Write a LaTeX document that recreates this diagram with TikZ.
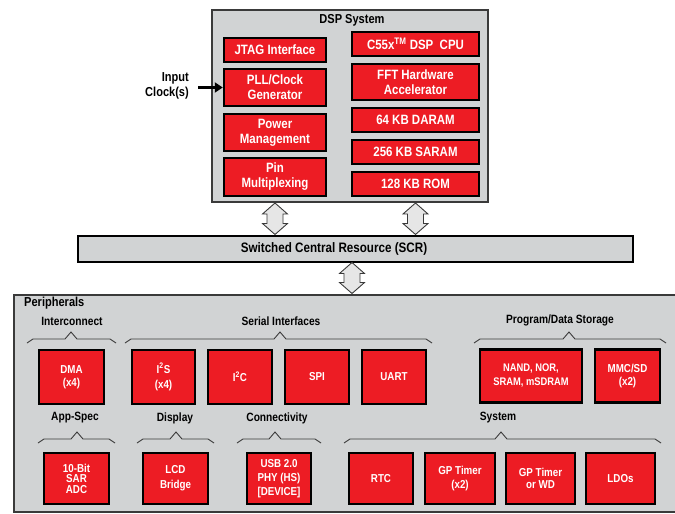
\documentclass[tikz,border=0pt]{standalone}
\usepackage{fontspec}
\setmainfont{Liberation Sans}[FakeStretch=0.85]
\usetikzlibrary{calc,arrows.meta}

\definecolor{chipred}{HTML}{ED1C24}
\definecolor{panelgray}{HTML}{D1D3D4}
\definecolor{framegray}{HTML}{3A3A3A}
\definecolor{busfill}{HTML}{E6E6E6}

% hollow vertical bus arrow between two points (top, bottom)
\newcommand\busarrow[2]{%
  \draw[bus] let \p1=#1, \p2=#2 in
    (\x1,\y1) -- (\x1+12.5pt,\y1-11pt) -- (\x1+8pt,\y1-11pt) -- (\x1+8pt,\y2+11pt)
    -- (\x1+12.5pt,\y2+11pt) -- (\x1,\y2) -- (\x1-12.5pt,\y2+11pt) -- (\x1-8pt,\y2+11pt)
    -- (\x1-8pt,\y1-11pt) -- (\x1-12.5pt,\y1-11pt) -- cycle;}

% group bracket: left x, right x, peak x, baseline y
\newcommand\groupbrace[4]{%
  \draw[bracestyle] (#1,#4+4) -- (#1+6,#4) -- (#3-6,#4) -- (#3,#4-7)
    -- (#3+6,#4) -- (#2-6,#4) -- (#2,#4+4);}

\tikzset{
  panel/.style={draw=framegray, fill=panelgray, line width=2pt},
  redbox/.style={draw=black, line width=2.5pt, fill=chipred, text=white,
    align=center, inner sep=0pt, font=\bfseries\fontsize{13.5}{15}\selectfont},
  perbox/.style={redbox, font=\bfseries\fontsize{11.5}{13.5}\selectfont},
  title/.style={inner sep=0pt, font=\bfseries\fontsize{13}{15}\selectfont},
  grouplabel/.style={inner sep=0pt, font=\bfseries\fontsize{12}{14}\selectfont},
  bracestyle/.style={draw=framegray, line width=0.9pt},
  bus/.style={draw=framegray, fill=busfill, line width=0.9pt, line join=miter},
}

\begin{document}
\begin{tikzpicture}[x=1pt,y=-1pt]
\useasboundingbox (0,0) rectangle (675,514);

% ---------- DSP system ----------
\node[panel, minimum width=276pt, minimum height=192pt, inner sep=0pt] (dsp) at (350,106) {};
\node[title] (dsptitle) at (352,20) {DSP System};

\node[redbox, minimum width=102pt, minimum height=24pt] (jtag) at (275,50) {JTAG Interface};
\node[redbox, minimum width=102pt, minimum height=37pt] (pll) at (275,87.5) {PLL/Clock\\Generator};
\node[redbox, minimum width=102pt, minimum height=37pt] (pwr) at (275,132.5) {Power\\Management};
\node[redbox, minimum width=102pt, minimum height=38pt] (pin) at (275,177) {Pin\\Multiplexing};

\node[redbox, minimum width=127pt, minimum height=24pt] (cpu) at (415.5,44) {C55x\textsuperscript{TM}\ DSP\ \ CPU};
\node[redbox, minimum width=127pt, minimum height=36pt] (fft) at (415.5,82) {FFT Hardware\\Accelerator};
\node[redbox, minimum width=127pt, minimum height=24pt] (daram) at (415.5,120) {64 KB DARAM};
\node[redbox, minimum width=127pt, minimum height=24pt] (saram) at (415.5,152) {256 KB SARAM};
\node[redbox, minimum width=127pt, minimum height=24pt] (rom) at (415.5,184) {128 KB ROM};

% input clock
\node[title, align=right, anchor=east] (clk) at (189,86) {Input\\Clock(s)};
\draw[-{Triangle[length=8pt,width=10pt]}, line width=2.5pt, shorten <=9pt]
  (clk.east |- pll.west) -- (pll.west);

% ---------- switched central resource ----------
\node[draw=black, fill=panelgray, line width=2pt, minimum width=555pt, minimum height=26pt,
  inner sep=0pt] (scr) at (355.5,248.5) {};
\node[inner sep=0pt, font=\bfseries\fontsize{13.7}{15}\selectfont] (scrtext)
  at (334,248.5) {Switched Central Resource (SCR)};

% ---------- peripherals ----------
\node[panel, minimum width=676pt, minimum height=217pt, inner sep=0pt] (periph) at (352,403) {};
\node[title, anchor=west] (pertitle) at (24,303) {Peripherals};

% bus arrows
\busarrow{(jtag.south |- dsp.south)}{(jtag.south |- scr.north)}
\busarrow{(cpu.south |- dsp.south)}{(cpu.south |- scr.north)}
\busarrow{(dsptitle.south |- scr.south)}{(dsptitle.south |- periph.north)}

% group labels and brackets, first row
\node[grouplabel] (gic) at (72,321) {Interconnect};
\node[grouplabel] (gser) at (281,321) {Serial Interfaces};
\node[grouplabel] (gsto) at (560,320) {Program/Data Storage};
\groupbrace{27}{116}{71}{339}
\groupbrace{125}{432}{280}{339}
\groupbrace{474}{666}{569}{339}

% first row of peripherals
\node[perbox, minimum width=65pt, minimum height=54pt] (dma) at (71.5,377) {DMA\\(x4)};
\node[perbox, minimum width=63pt, minimum height=54pt, font=\bfseries\fontsize{11.5}{15}\selectfont] (i2s) at (163.5,377) {I\textsuperscript{2}S\\(x4)};
\node[perbox, minimum width=64pt, minimum height=54pt] (i2c) at (240,377) {I\textsuperscript{2}C};
\node[perbox, minimum width=64pt, minimum height=54pt] (spi) at (317,377) {SPI};
\node[perbox, minimum width=64pt, minimum height=54pt] (uart) at (394,377) {UART};
\node[perbox, minimum width=102pt, minimum height=53pt, font=\bfseries\fontsize{11}{14}\selectfont] (nand) at (531,376) {NAND, NOR,\\SRAM, mSDRAM};
\node[perbox, minimum width=65pt, minimum height=53pt, font=\bfseries\fontsize{11.5}{12.3}\selectfont] (mmc) at (627.5,376) {MMC/SD\\(x2)};

% group labels and brackets, second row
\node[grouplabel] (gapp) at (75,418) {App-Spec};
\node[grouplabel] (gdisp) at (175,418) {Display};
\node[grouplabel] (gcon) at (277,418) {Connectivity};
\node[grouplabel] (gsys) at (498,418) {System};
\groupbrace{38}{115}{77}{439}
\groupbrace{137}{214}{176}{439}
\groupbrace{237}{321}{275}{439}
\groupbrace{344}{661}{501}{439}

% second row of peripherals
\node[perbox, minimum width=65pt, minimum height=51pt, font=\bfseries\fontsize{11.5}{10.5}\selectfont] (adc) at (76.5,478.5) {10-Bit\\SAR\\ADC};
\node[perbox, minimum width=65pt, minimum height=51pt, font=\bfseries\fontsize{11.5}{15}\selectfont] (lcd) at (175.5,478.5) {LCD\\Bridge};
\node[perbox, minimum width=64pt, minimum height=51pt, font=\bfseries\fontsize{11.5}{14}\selectfont] (usb) at (279,478.5) {USB 2.0\\PHY (HS)\\{[DEVICE]}};
\node[perbox, minimum width=64pt, minimum height=51pt] (rtc) at (381,478.5) {RTC};
\node[perbox, minimum width=70pt, minimum height=51pt] (gpt) at (460,478.5) {GP Timer\\(x2)};
\node[perbox, minimum width=69pt, minimum height=51pt, font=\bfseries\fontsize{11.5}{12.3}\selectfont] (gptwd) at (540.5,478.5) {GP Timer\\or WD};
\node[perbox, minimum width=69pt, minimum height=51pt] (ldo) at (620.5,478.5) {LDOs};

\end{tikzpicture}
\end{document}
